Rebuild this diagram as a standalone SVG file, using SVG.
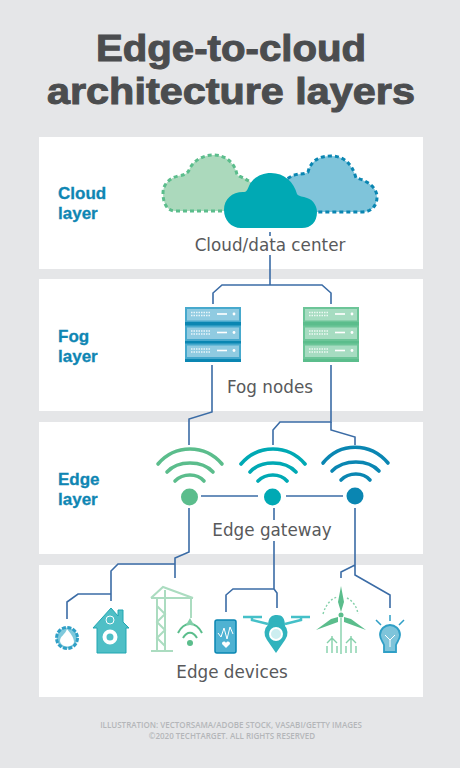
<svg xmlns="http://www.w3.org/2000/svg" width="460" height="768" viewBox="0 0 460 768">
<style>
.title{font-family:"Liberation Sans",Arial,sans-serif;font-size:37px;font-weight:700;fill:#4b4d4f;stroke:#4b4d4f;stroke-width:1;text-anchor:middle}
.layer{font-family:"Liberation Sans",Arial,sans-serif;font-size:17px;font-weight:700;fill:#0f86b3;stroke:#0f86b3;stroke-width:.3}
.cap{font-family:"DejaVu Sans",sans-serif;font-size:16.8px;fill:#58595b;text-anchor:middle}
.foot{font-family:"Open Sans",sans-serif;font-size:8px;font-weight:600;fill:#b4b6b9;text-anchor:middle}
.panel{fill:#fff}
.c{fill:none;stroke:#3b6ca6;stroke-width:1.6}
.arc{fill:none;stroke-width:3.6;stroke-linecap:round}
.dash{stroke-width:3;stroke-dasharray:4 3}
.lat{fill:none;stroke:#abdcc0;stroke-width:2}
.ln{fill:none;stroke:#84d0aa;stroke-width:1.4}
</style>
<defs>
<g id="face"><rect x="2" y="2" width="52" height="11.500" fill="#fff" fill-opacity=".4"/><path d="M6 5.500H26M6 8.500H26" stroke="#fff" stroke-width="1.500" stroke-dasharray="1.500 1" opacity=".8" fill="none"/><rect x="32" y="6.200" width="10" height="1.600" fill="#fff"/><circle cx="49" cy="7" r="1.400" fill="#fff"/></g>
</defs>
<rect width="460" height="768" fill="#e5e6e8"/>
<g id="title"><text class="title" x="231" y="61" textLength="270" lengthAdjust="spacingAndGlyphs">Edge-to-cloud</text><text class="title" x="231" y="104" textLength="368" lengthAdjust="spacingAndGlyphs">architecture layers</text></g>
<g id="panels">
<rect class="panel" x="39" y="137" width="384" height="132"/>
<rect class="panel" x="39" y="279" width="384" height="132"/>
<rect class="panel" x="39" y="422" width="384" height="132"/>
<rect class="panel" x="39" y="565" width="384" height="132"/>
</g>
<g id="connectors">
<path class="c" d="M270 232V236M270 255V285"/>
<path class="c" d="M213 304V293L222 285H322L331 293V304"/>
<path class="c" d="M212 365V412L189 419V445"/>
<path class="c" d="M331 365V422H280L273 430V445"/>
<path class="c" d="M331 422V430L355 437V445"/>
<path class="c" d="M201 496H258M286 496H343"/>
<path class="c" d="M189 508V552L175 558V578M175 564H118L111 571V601M111 594H78L67 602V619"/>
<path class="c" d="M274 508V520M274 541V589H233L226 595V612M274 589L277 593V608"/>
<path class="c" d="M355 508V575L390 595V608M355 565L341 572V578"/>
</g>
<g id="cloud-layer-label"><text class="layer" x="58" y="199">Cloud</text><text class="layer" x="58" y="219">layer</text></g>
<g id="cloud-left"><path class="dash" d="M250 211H175C167 211 163 203 163 193C163 184 170 178 178 176C184 175 188 174 190 168C194 160 204 155 213 155C226 155 235 163 237 175C241 177 246 179 252 183Z" fill="#abd9bc" stroke="#5bbd8c"/></g>
<g id="cloud-right"><path class="dash" d="M285 212V180L292 176C298 173 304 175 308 172C311 160 320 156 331 156C343 156 352 163 356 178C366 180 377 187 377 197C377 206 371 212 362 212Z" fill="#7fc4da" stroke="#0a86b2"/></g>
<g id="cloud-center"><path d="M241 228C231 228 224 220 224 210C224 199 232 192 243 192C247 192 247 190 249 186C252 179 260 173 271 173C284 173 294 182 297 194C299 197 303 196 307 198C314 200 317 207 317 212C317 222 311 228 302 228Z" fill="#00a9b4"/></g>
<g id="cloud-caption"><text class="cap" x="270" y="251">Cloud/data center</text></g>
<g id="fog-layer-label"><text class="layer" x="58" y="342">Fog</text><text class="layer" x="58" y="362">layer</text></g>
<g id="fog-node-blue">
<rect x="185" y="307" width="56" height="55" fill="#0a86b2"/>
<rect x="185" y="307" width="56" height="15" fill="#47a9cd"/><rect x="185" y="325.500" width="56" height="15.500" fill="#47a9cd"/><rect x="185" y="343.500" width="56" height="15.500" fill="#47a9cd"/>
<use href="#face" x="185" y="307"/><use href="#face" x="185" y="325.500"/><use href="#face" x="185" y="343.500"/>
</g>
<g id="fog-node-green">
<rect x="303" y="307" width="56" height="55" fill="#5bbd8c"/>
<rect x="303" y="307" width="56" height="15" fill="#6cc598"/><rect x="303" y="325.500" width="56" height="15.500" fill="#6cc598"/><rect x="303" y="343.500" width="56" height="15.500" fill="#6cc598"/>
<use href="#face" x="303" y="307"/><use href="#face" x="303" y="325.500"/><use href="#face" x="303" y="343.500"/>
</g>
<g id="fog-caption"><text class="cap" x="270" y="393">Fog nodes</text></g>
<g id="edge-layer-label"><text class="layer" x="58" y="485">Edge</text><text class="layer" x="58" y="505">layer</text></g>
<g id="gateway-green" stroke="#5bbd8c"><path class="arc" d="M158 464C175 444 205 444 222 464M167 472C178 460 202 460 213 472M175 481C183 473 197 473 204 481"/><circle cx="189.500" cy="497" r="8.500" fill="#5bbd8c" stroke="none"/></g>
<g id="gateway-teal" stroke="#00a9b4"><path class="arc" d="M241 464C258 444 288 444 305 464M250 472C261 460 285 460 296 472M258 481C266 473 280 473 287 481"/><circle cx="272.500" cy="497" r="8.500" fill="#00a9b4" stroke="none"/></g>
<g id="gateway-blue" stroke="#0a86b2"><path class="arc" d="M323 463C340 442 370 442 388 463M332 471C344 459 368 459 379 471M341 480C349 472 363 472 370 480"/><circle cx="355" cy="496" r="8.500" fill="#0a86b2" stroke="none"/></g>
<g id="gateway-caption"><text class="cap" x="272" y="536">Edge gateway</text></g>
<g id="device-flame"><circle cx="67" cy="638" r="10.500" fill="#7fc9dc" stroke="#2f9fc6" stroke-width="3" stroke-dasharray="4 1.500"/><path d="M60 641C60 636 65 635 67 629C70 633 74 637 74 642C73 648 61 648 60 641Z" fill="#fff"/></g>
<g id="device-house"><path d="M93 628L111 608L118 616V610H123V622L129 628H126V653H97V628Z" fill="#4fbfc6" stroke="#20a6b2"/><circle cx="110" cy="637" r="5.500" fill="none" stroke="#fff" stroke-width="4"/><circle cx="110" cy="620" r="4" fill="none" stroke="#fff"/></g>
<g id="device-crane"><path class="lat" d="M151 598L163 587L193 598M151 598H193M157 598V651M165 590V651M157 606L165 614L157 622L165 630L157 638L165 646"/><path class="lat" d="M151 651H173" stroke-width="4"/><path class="lat" d="M191 598V618" stroke-width="1"/></g>
<g id="device-wifi"><path d="M178 633C184 621 196 621 202 633M183 638C187 631 193 631 197 638" fill="none" stroke="#5bbd8c" stroke-width="2"/><path d="M186 625L190 618L194 625Z" fill="#84d0aa"/><circle cx="190" cy="643" r="3" fill="#5bbd8c"/></g>
<g id="device-phone"><rect x="215" y="620" width="21" height="33" rx="2" fill="#4fb2d2" stroke="#0a86b2" stroke-width="1.500"/><path d="M218 633L221 637L224 628L227 639L230 627L233 634" fill="none" stroke="#fff"/><path d="M226 648L222 644C222 641 225 641 226 643C227 641 230 641 230 644Z" fill="#fff"/></g>
<g id="device-drone"><path d="M243 617H262M291 617H310" stroke="#45c0c8" stroke-width="2.500" fill="none"/><path d="M252 617V620L268 624M301 617V620L285 624" stroke="#45c0c8" stroke-width="2.500" fill="none"/><path d="M268 626C268 617 272 615 277 615C282 615 285 618 285 626Z" fill="#30b3bd"/><path d="M276 653L267 640A11.500 11.500 0 1 1 285 640Z" fill="#30b3bd"/><circle cx="276" cy="634" r="6" fill="#cdeef0" stroke="#fff" stroke-width="2"/></g>
<g id="device-turbine" fill="#5bbd8c"><path d="M341 586L344 602L341 612L338 602Z"/><path d="M316 630L331 619L338 617L338 622Z"/><path d="M366 630L351 619L344 617L344 622Z"/><circle cx="341" cy="615" r="2.500"/><path class="ln" d="M341 618V654M332 636V653M351 636V653M327 643L332 638L337 643M346 643L351 638L356 643M327 653V646M337 653V646M346 653V646M356 653V646"/><path class="ln" stroke-dasharray="2 2" d="M323 614C326 604 331 599 337 597M347 598C353 601 357 607 358 614"/></g>
<g id="device-bulb"><path d="M390 615V621M376 620L381 625M404 620L399 625" stroke="#2f9fc6" stroke-width="1.500" fill="none"/><path d="M380 635C380 629 385 625 390 625C395 625 400 629 400 635C400 639 397 642 396 645V652H384V645C383 642 380 639 380 635Z" fill="#7fc4da" stroke="#2f9fc6" stroke-width="1.800"/><path d="M385 635L390 640L395 635M390 640V647" stroke="#fff" fill="none"/></g>
<g id="devices-caption"><text class="cap" x="232" y="678">Edge devices</text></g>
<g id="credit"><text class="foot" x="231" y="728">ILLUSTRATION: VECTORSAMA/ADOBE STOCK, VASABI/GETTY IMAGES</text><text class="foot" x="232" y="739">©2020 TECHTARGET. ALL RIGHTS RESERVED</text></g>
</svg>
